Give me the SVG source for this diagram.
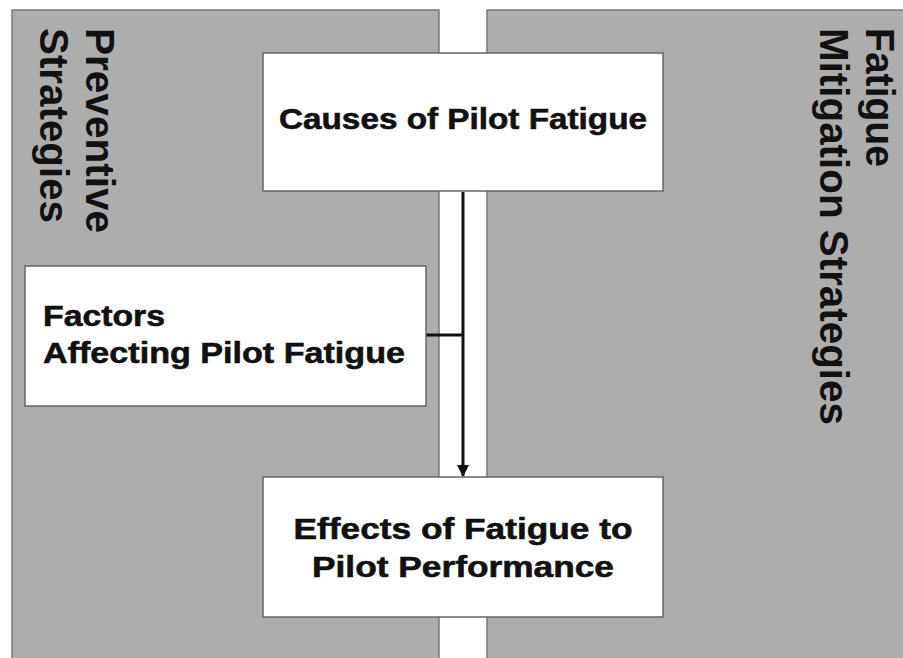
<svg xmlns="http://www.w3.org/2000/svg" width="903" height="658" viewBox="0 0 903 658">
<defs>
<style>
.panel{fill:#adadad;stroke:#7a7a7a;stroke-width:1.5}
.box{fill:#ffffff;stroke:#666666;stroke-width:1.5}
.lbl{font-family:"Liberation Sans",Arial,sans-serif;font-weight:bold;font-size:30px;fill:#111111;stroke:#111111;stroke-width:0.6}
.lane{font-family:"Liberation Sans",Arial,sans-serif;font-weight:bold;font-size:40px;fill:#111111}
.conn{stroke:#111111;stroke-width:3;fill:none}
</style>
<marker id="arr" markerWidth="12" markerHeight="12" refX="11" refY="6" orient="auto" markerUnits="userSpaceOnUse">
<path d="M0,0 L12,6 L0,12 Z" fill="#111111"/>
</marker>
</defs>
<rect x="0" y="0" width="903" height="658" fill="#ffffff"/>
<g id="lane-preventive">
<rect class="panel" x="12" y="10" width="427" height="660"/>
<text class="lane" transform="rotate(90 86 28)" x="86" y="28" textLength="205" lengthAdjust="spacingAndGlyphs">Preventive</text>
<text class="lane" transform="rotate(90 40 28)" x="40" y="28" textLength="195" lengthAdjust="spacingAndGlyphs">Strategies</text>
</g>
<g id="lane-mitigation">
<rect class="panel" x="487" y="10" width="430" height="660"/>
<text class="lane" transform="rotate(90 866 28)" x="866" y="28" textLength="139" lengthAdjust="spacingAndGlyphs">Fatigue</text>
<text class="lane" transform="rotate(90 820 28)" x="820" y="28" textLength="397" lengthAdjust="spacingAndGlyphs">Mitigation Strategies</text>
</g>
<g id="connectors">
<line class="conn" x1="463" y1="192" x2="463" y2="476" marker-end="url(#arr)"/>
<line class="conn" x1="426" y1="335" x2="463" y2="335"/>
</g>
<g id="node-causes">
<rect class="box" x="263" y="53" width="400" height="138"/>
<text class="lbl" x="463" y="129" text-anchor="middle" textLength="368" lengthAdjust="spacingAndGlyphs">Causes of Pilot Fatigue</text>
</g>
<g id="node-factors">
<rect class="box" x="25" y="266" width="401" height="140"/>
<text class="lbl" x="43" y="326" textLength="122" lengthAdjust="spacingAndGlyphs">Factors</text>
<text class="lbl" x="43" y="363" textLength="362" lengthAdjust="spacingAndGlyphs">Affecting Pilot Fatigue</text>
</g>
<g id="node-effects">
<rect class="box" x="263" y="477" width="400" height="140"/>
<text class="lbl" x="463" y="539" text-anchor="middle" textLength="339" lengthAdjust="spacingAndGlyphs">Effects of Fatigue to</text>
<text class="lbl" x="463" y="577" text-anchor="middle" textLength="302" lengthAdjust="spacingAndGlyphs">Pilot Performance</text>
</g>
</svg>
